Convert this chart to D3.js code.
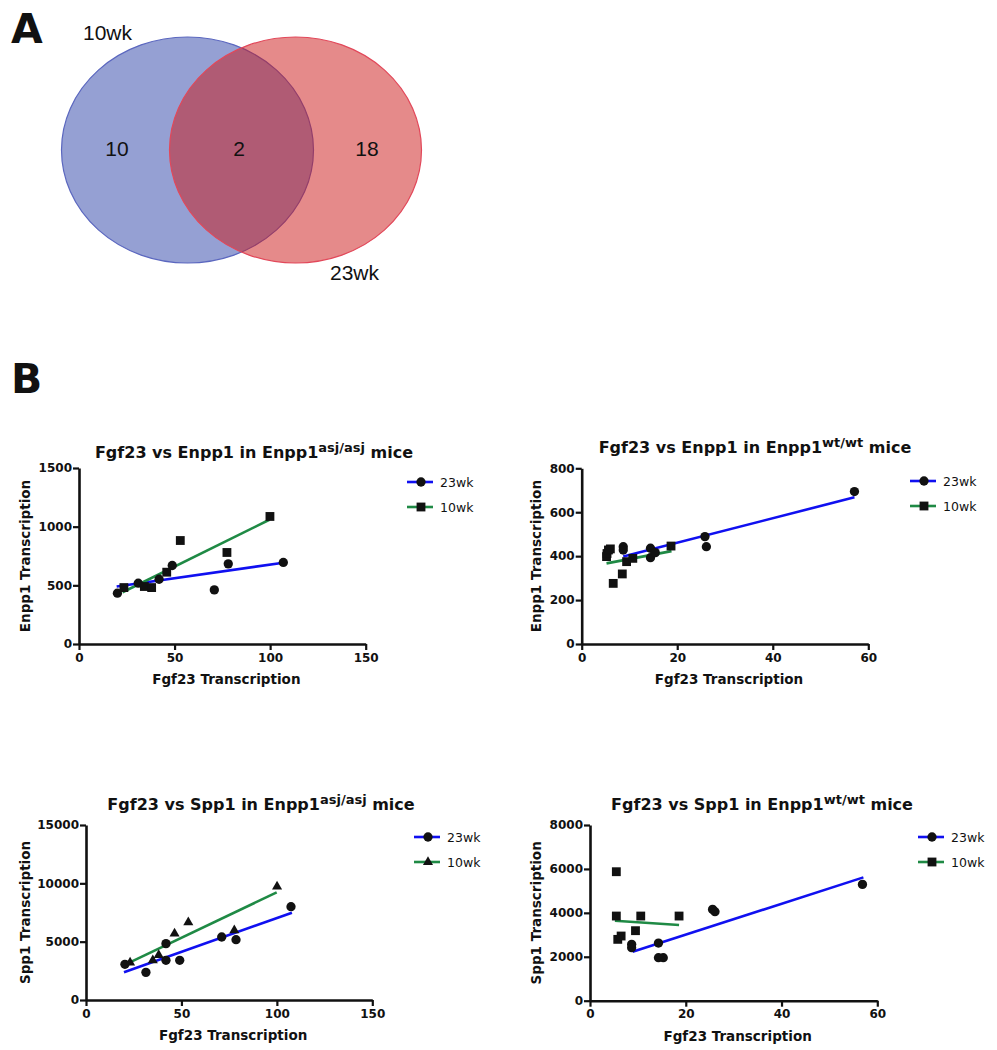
<!DOCTYPE html>
<html>
<head>
<meta charset="utf-8">
<script src="https://cdn.jsdelivr.net/npm/d3@7"></script>
<style>
  body { margin: 0; background: #fff; }
  svg text { fill: #111; }
</style>
</head>
<body>
<div id="chart"></div>
<script>
// ---- data ----
// Venn counts
var vennSets = ["10wk", "23wk"];
var vennCounts = [10, 2, 18]; // only 10wk, both, only 23wk

// tick values
var ticksAsjX = [0, 50, 100, 150];
var ticksWtX = [0, 20, 40, 60];
var ticksEnppAsjY = [0, 500, 1000, 1500];
var ticksEnppWtY = [0, 200, 400, 600, 800];
var ticksSppAsjY = [0, 5000, 10000, 15000];
var ticksSppWtY = [0, 2000, 4000, 6000, 8000];

// Fgf23 vs Enpp1, asj/asj
var enppAsj23 = [[20.1, 433], [31.0, 518], [41.9, 552], [48.8, 669], [70.8, 461], [78.1, 683], [106.9, 695]];
var enppAsj10 = [[23.5, 481], [34.2, 490], [38.0, 481], [45.9, 612], [53.0, 882], [77.4, 780], [99.9, 1087]];
var enppAsjFit23 = [[19.7, 490], [107.8, 695]];
var enppAsjFit10 = [[22.8, 441], [99.6, 1059]];

// Fgf23 vs Enpp1, wt/wt
var enppWt23 = [[8.7, 443], [8.7, 428], [14.4, 436], [14.4, 393], [15.4, 416], [25.8, 489], [26.1, 443], [57.1, 694]];
var enppWt10 = [[5.2, 398], [5.3, 412], [5.6, 428], [6.0, 433], [6.6, 276], [8.5, 319], [9.4, 375], [10.7, 390], [18.7, 446]];
var enppWtFit23 = [[8.7, 398], [57.1, 668]];
var enppWtFit10 = [[5.2, 367], [18.8, 423]];

// Fgf23 vs Spp1, asj/asj
var sppAsj23 = [[20.4, 3057], [31.4, 2371], [41.9, 4829], [41.9, 3400], [49.1, 3400], [71.1, 5400], [78.6, 5171], [107.4, 8000]];
var sppAsj10 = [[23.1, 3200], [35.0, 3400], [38.1, 3857], [46.4, 5686], [53.6, 6657], [77.7, 5971], [100.1, 9714]];
var sppAsjFit23 = [[19.9, 2371], [107.9, 7486]];
var sppAsjFit10 = [[22.7, 3200], [99.9, 9229]];

// Fgf23 vs Spp1, wt/wt
var sppWt23 = [[8.7, 2565], [8.7, 2413], [14.3, 2625], [14.3, 1958], [15.3, 1958], [25.6, 4158], [26.1, 4052], [56.9, 5296]];
var sppWt10 = [[5.5, 5873], [5.5, 3855], [5.8, 2793], [6.5, 2945], [9.5, 3188], [10.6, 3855], [18.6, 3855]];
var sppWtFit23 = [[8.9, 2231], [57.1, 5615]];
var sppWtFit10 = [[5.2, 3642], [18.6, 3445]];

var BLUE = "#1010f0", GREEN = "#1f8a45";

var svg = d3.select("#chart").append("svg")
  .attr("width", 997).attr("height", 1050);

// panel letters
svg.append("text").attr("x", 11).attr("y", 43).text("A")
  .style("font-family", "'DejaVu Sans'").style("font-weight", "bold").style("font-size", "41px");
svg.append("text").attr("x", 11).attr("y", 393).text("B")
  .style("font-family", "'DejaVu Sans'").style("font-weight", "bold").style("font-size", "41px");

// ---- Venn ----
var venn = svg.append("g");
venn.append("ellipse").attr("cx", 187.5).attr("cy", 150).attr("rx", 126).attr("ry", 113)
  .attr("fill", "rgb(43,65,167)").attr("fill-opacity", 0.5)
  .attr("stroke", "#5b67bf").attr("stroke-width", 1.2);
venn.append("ellipse").attr("cx", 295.5).attr("cy", 150).attr("rx", 126).attr("ry", 113)
  .attr("fill", "rgb(203,21,21)").attr("fill-opacity", 0.5)
  .attr("stroke", "#e2485a").attr("stroke-width", 1.2);

var vfont = "'Liberation Sans', Arial, sans-serif";
venn.append("text").attr("x", 83).attr("y", 40).text(vennSets[0])
  .style("font-family", vfont).style("font-size", "21px");
venn.append("text").attr("x", 330).attr("y", 280).text(vennSets[1])
  .style("font-family", vfont).style("font-size", "21px");
var countX = [117, 239, 367];
venn.selectAll("text.count").data(vennCounts).enter().append("text")
  .attr("class", "count")
  .attr("x", function(d, i) { return countX[i]; })
  .attr("y", 156)
  .attr("text-anchor", "middle")
  .style("font-family", vfont).style("font-size", "21px")
  .text(function(d) { return d; });

// ---- scatter panels ----
var cfont = "'DejaVu Sans', sans-serif";

function symbolFor(shape) {
  if (shape == "circle") return d3.symbol().type(d3.symbolCircle).size(68);
  if (shape == "square") return d3.symbol().type(d3.symbolSquare).size(78);
  return d3.symbol().type(d3.symbolTriangle).size(44);
}

function panel(p) {
  var x = d3.scaleLinear().domain([0, p.xTicks[p.xTicks.length - 1]]).range([p.x0, p.x1]);
  var y = d3.scaleLinear().domain([0, p.yTicks[p.yTicks.length - 1]]).range([p.y0, p.y1]);
  var g = svg.append("g");

  var xAxis = g.append("g").attr("transform", "translate(0," + p.y0 + ")")
    .call(d3.axisBottom(x).tickValues(p.xTicks).tickFormat(d3.format("d"))
      .tickSize(6).tickSizeOuter(0).tickPadding(3));
  var yAxis = g.append("g").attr("transform", "translate(" + p.x0 + ",0)")
    .call(d3.axisLeft(y).tickValues(p.yTicks).tickFormat(d3.format("d"))
      .tickSize(6).tickSizeOuter(0).tickPadding(1));
  [xAxis, yAxis].forEach(function(a) {
    a.select(".domain").attr("stroke", "#111").attr("stroke-width", 2.6);
    a.selectAll(".tick line").attr("stroke", "#111").attr("stroke-width", 2.2);
    a.selectAll(".tick text").style("font-family", cfont).style("font-weight", "bold")
      .style("font-size", "12px").attr("fill", "#111");
  });

  // title with superscript
  var t = g.append("text").attr("x", p.tx).attr("y", p.ty).attr("text-anchor", "middle")
    .style("font-family", cfont).style("font-weight", "bold").style("font-size", "16px");
  t.append("tspan").text(p.title[0]);
  t.append("tspan").attr("dy", -6).style("font-size", "13px").text(p.title[1]);
  t.append("tspan").attr("dy", 6).text(" " + p.title[2]);

  g.append("text").attr("x", (p.x0 + p.x1) / 2 + 4).attr("y", p.y0 + 40)
    .attr("text-anchor", "middle")
    .style("font-family", cfont).style("font-weight", "bold").style("font-size", "13.5px")
    .text(p.xLabel);
  g.append("text")
    .attr("transform", "translate(" + p.ylx + "," + ((p.y0 + p.y1) / 2) + ") rotate(-90)")
    .attr("text-anchor", "middle")
    .style("font-family", cfont).style("font-weight", "bold").style("font-size", "13.5px")
    .text(p.yLabel);

  var line = d3.line().x(function(d) { return x(d[0]); }).y(function(d) { return y(d[1]); });
  p.series.forEach(function(s) {
    g.append("path").datum(s.fit).attr("d", line)
      .attr("fill", "none").attr("stroke", s.color).attr("stroke-width", 2.6);
  });
  p.series.forEach(function(s) {
    g.selectAll(null).data(s.points).enter().append("path")
      .attr("d", symbolFor(s.shape))
      .attr("transform", function(d) { return "translate(" + x(d[0]) + "," + y(d[1]) + ")"; })
      .attr("fill", "#111");
  });

  // legend
  p.series.forEach(function(s, i) {
    var ly = p.ly + i * 25;
    g.append("line").attr("x1", p.lx).attr("x2", p.lx + 26).attr("y1", ly).attr("y2", ly)
      .attr("stroke", s.color).attr("stroke-width", 2.6);
    g.append("path").attr("d", symbolFor(s.shape))
      .attr("transform", "translate(" + (p.lx + 14) + "," + ly + ")").attr("fill", "#111");
    g.append("text").attr("x", p.lx + 33).attr("y", ly + 4.5)
      .style("font-family", cfont).style("font-size", "12.5px").text(s.name);
  });
}

panel({
  x0: 79, x1: 365.7, y0: 644, y1: 468, xTicks: ticksAsjX, yTicks: ticksEnppAsjY,
  tx: 254, ty: 458, title: ["Fgf23 vs Enpp1 in Enpp1", "asj/asj", "mice"],
  xLabel: "Fgf23 Transcription", yLabel: "Enpp1 Transcription", ylx: 30,
  lx: 407, ly: 482,
  series: [
    {name: "23wk", color: BLUE, shape: "circle", points: enppAsj23, fit: enppAsjFit23},
    {name: "10wk", color: GREEN, shape: "square", points: enppAsj10, fit: enppAsjFit10}
  ]
});

panel({
  x0: 581.7, x1: 868.3, y0: 644, y1: 468.3, xTicks: ticksWtX, yTicks: ticksEnppWtY,
  tx: 755, ty: 453, title: ["Fgf23 vs Enpp1 in Enpp1", "wt/wt", "mice"],
  xLabel: "Fgf23 Transcription", yLabel: "Enpp1 Transcription", ylx: 541,
  lx: 910, ly: 481,
  series: [
    {name: "23wk", color: BLUE, shape: "circle", points: enppWt23, fit: enppWtFit23},
    {name: "10wk", color: GREEN, shape: "square", points: enppWt10, fit: enppWtFit10}
  ]
});

panel({
  x0: 86, x1: 372.3, y0: 1000, y1: 825, xTicks: ticksAsjX, yTicks: ticksSppAsjY,
  tx: 261, ty: 810, title: ["Fgf23 vs Spp1 in Enpp1", "asj/asj", "mice"],
  xLabel: "Fgf23 Transcription", yLabel: "Spp1 Transcription", ylx: 30,
  lx: 414, ly: 837,
  series: [
    {name: "23wk", color: BLUE, shape: "circle", points: sppAsj23, fit: sppAsjFit23},
    {name: "10wk", color: GREEN, shape: "triangle", points: sppAsj10, fit: sppAsjFit10}
  ]
});

panel({
  x0: 590, x1: 877.3, y0: 1000.7, y1: 825, xTicks: ticksWtX, yTicks: ticksSppWtY,
  tx: 762, ty: 810, title: ["Fgf23 vs Spp1 in Enpp1", "wt/wt", "mice"],
  xLabel: "Fgf23 Transcription", yLabel: "Spp1 Transcription", ylx: 541,
  lx: 918, ly: 837,
  series: [
    {name: "23wk", color: BLUE, shape: "circle", points: sppWt23, fit: sppWtFit23},
    {name: "10wk", color: GREEN, shape: "square", points: sppWt10, fit: sppWtFit10}
  ]
});
</script>
</body>
</html>
